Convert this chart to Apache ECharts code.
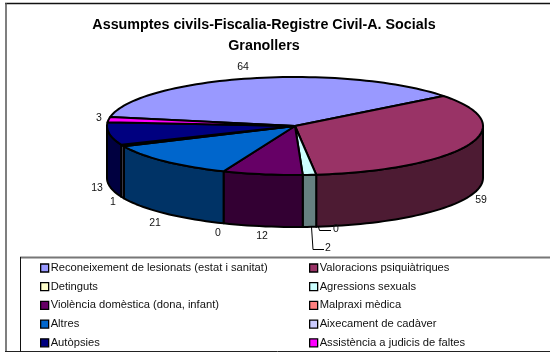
<!DOCTYPE html>
<html>
<head>
<meta charset="utf-8">
<style>html,body{margin:0;padding:0;background:#fff}#c{width:550px;height:354px}</style>
<script src="https://cdn.jsdelivr.net/npm/echarts@6/dist/echarts.min.js"></script>
</head>
<body>
<div id="c"></div>
<script>
const categories = ['Reconeixement de lesionats (estat i sanitat)','Valoracions psiquiàtriques','Detinguts','Agressions sexuals','Violència domèstica (dona, infant)','Malpraxi mèdica','Altres','Aixecament de cadàver','Autòpsies','Assistència a judicis de faltes'];
const values = [64,59,0,2,12,0,21,1,13,3];
const topColors = ['#9999FF','#993366','#FFFFCC','#CCFFFF','#660066','#FF8080','#0066CC','#CCCCFF','#000080','#FF00FF'];
const sideColors = ['#4D4D80','#4D1B33','#808066','#668080','#330033','#804040','#003366','#666680','#000040','#800080'];
// layout only
const labelPos = [[243,67],[481,200],[0,0],[328,248],[262,236],[218,233],[155,223],[113,202],[97,188],[99,118]];
const extraLabel = {text:'0',pos:[336,229]};
const CX=295, CY=126, RX=188, RY=49, DEPTH=52, START=169.5;
const total = values.reduce((a,b)=>a+b,0);
const rad = d=>d*Math.PI/180;
const pt = (t,dy)=>[CX+RX*Math.cos(rad(t)), CY-RY*Math.sin(rad(t))+(dy||0)];
function arc(a,b,dy){const n=Math.max(2,Math.ceil(Math.abs(a-b)/2));const r=[];for(let i=0;i<=n;i++)r.push(pt(a+(b-a)*i/n,dy));return r;}
function sliceRange(i){let s=0;for(let k=0;k<i;k++)s+=values[k];return [START-s/total*360, START-(s+values[i])/total*360];}
const stroke={stroke:'#000',lineWidth:2,lineJoin:'round'};
const series = categories.map((name,i)=>({
  name, type:'custom', coordinateSystem:'none', silent:true, animation:false,
  itemStyle:{color:topColors[i]},
  data:[[values[i]]],
  z: 2+i,
  renderItem(params,api){
    const v=api.value(0), children=[];
    if(v>0){
      const [a,b]=sliceRange(i);
      const lo=Math.max(Math.min(a,b),-180), hi=Math.min(Math.max(a,b),0);
      if(hi>lo){
        const pts=arc(hi,lo,0).concat(arc(lo,hi,DEPTH));
        children.push({type:'polygon',shape:{points:pts},style:Object.assign({fill:sideColors[i]},stroke)});
      }
      children.push({type:'polygon',shape:{points:[[CX,CY]].concat(arc(a,b,0))},style:Object.assign({fill:topColors[i]},stroke)});
    }
    return {type:'group',children};
  }
}));
const lab=(t,p)=>({type:'text',x:p[0],y:p[1],z:50,style:{text:t,fill:'#111',font:'10.5px "Liberation Sans"',align:'center',verticalAlign:'middle'}});
const graphic=[
 {type:'line',shape:{x1:5,y1:3.5,x2:550,y2:3.5},style:{stroke:'#111',lineWidth:1.5},z:0},
 {type:'line',shape:{x1:6,y1:3,x2:6,y2:352},style:{stroke:'#555',lineWidth:1.5},z:0},
 {type:'line',shape:{x1:5,y1:351.5,x2:550,y2:351.5},style:{stroke:'#222',lineWidth:1},z:0},
 {type:'line',shape:{x1:20,y1:257.5,x2:550,y2:257.5},style:{stroke:'#777',lineWidth:2},z:0},
 {type:'line',shape:{x1:20.5,y1:257,x2:20.5,y2:352},style:{stroke:'#111',lineWidth:1},z:0},
 {type:'polyline',shape:{points:[[318.5,227],[319.5,230.5],[331,230.5]]},style:{fill:'none',stroke:'#000',lineWidth:1},z:50},
 {type:'polyline',shape:{points:[[311.5,227],[313,249.5],[324,249.5]]},style:{fill:'none',stroke:'#000',lineWidth:1},z:50},
 lab(extraLabel.text,extraLabel.pos)
];
values.forEach((v,i)=>{ if(labelPos[i][0]) graphic.push(lab(String(v),labelPos[i])); });
const legendBase={orient:'vertical',top:262.5,itemWidth:8,itemHeight:8,itemGap:7.7,icon:'rect',
  padding:0,selectedMode:false,textStyle:{fontFamily:'"Liberation Sans"',fontSize:11.2,color:'#111',padding:[0,0,0,-3]},
  itemStyle:{borderColor:'#000',borderWidth:1.3}};
const option={
  backgroundColor:'#fff',
  animation:false,
  title:{text:'Assumptes civils-Fiscalia-Registre Civil-A. Socials\nGranollers',left:259,top:10,textAlign:'center',
    textStyle:{fontFamily:'"Liberation Sans"',fontSize:14.3,fontWeight:'bold',color:'#000',lineHeight:20.5}},
  legend:[
    Object.assign({},legendBase,{left:40,data:categories.filter((_,i)=>i%2===0)}),
    Object.assign({},legendBase,{left:309,data:categories.filter((_,i)=>i%2===1)})
  ],
  graphic,
  series
};
echarts.init(document.getElementById('c'),null,{renderer:'canvas'}).setOption(option);
</script>
</body>
</html>
